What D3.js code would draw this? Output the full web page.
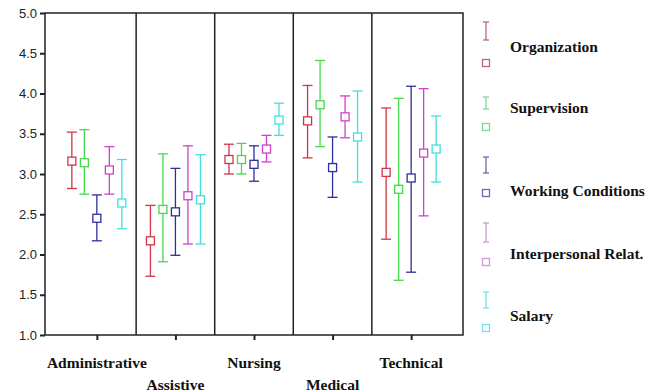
<!DOCTYPE html>
<html>
<head>
<meta charset="utf-8">
<script src="https://cdn.jsdelivr.net/npm/d3@7"></script>
<style>
body { margin: 0; background: #fff; }
svg { display: block; }
</style>
</head>
<body>
<script>
// categories and series
var groups = ["Administrative", "Assistive", "Nursing", "Medical", "Technical"];
var series = ["Organization", "Supervision", "Working Conditions", "Interpersonal Relat.", "Salary"];
var colors = ["#d0354a", "#45d84a", "#2e2e9e", "#d040d0", "#40e0e0"];
var legendColors = ["#b86878", "#80d890", "#6a6ab0", "#d098d8", "#70e4e4"];

// means and CI bounds, one row per series, one value per group
var means = [
  [3.16, 2.17, 3.18, 3.66, 3.02],
  [3.14, 2.56, 3.18, 3.86, 2.81],
  [2.45, 2.53, 3.12, 3.08, 2.95],
  [3.05, 2.73, 3.31, 3.71, 3.26],
  [2.64, 2.68, 3.67, 3.46, 3.31]
];
var upper = [
  [3.52, 2.61, 3.37, 4.10, 3.82],
  [3.55, 3.25, 3.38, 4.41, 3.94],
  [2.74, 3.07, 3.35, 3.46, 4.09],
  [3.34, 3.35, 3.48, 3.97, 4.06],
  [3.18, 3.24, 3.88, 4.03, 3.72]
];
var lower = [
  [2.82, 1.73, 3.00, 3.20, 2.19],
  [2.75, 1.91, 3.00, 3.34, 1.68],
  [2.17, 1.99, 2.91, 2.71, 1.78],
  [2.75, 2.13, 3.15, 3.45, 2.48],
  [2.32, 2.13, 3.48, 2.90, 2.90]
];
var yTicks = [1.0, 1.5, 2.0, 2.5, 3.0, 3.5, 4.0, 4.5, 5.0];

var svg = d3.select("body").append("svg")
    .attr("width", 664)
    .attr("height", 392);

var plotLeft = 45, plotRight = 463, plotTop = 13, plotBottom = 335;

var x = d3.scalePoint()
    .domain(groups)
    .range([plotLeft, plotRight])
    .padding(0.66);

var offset = d3.scalePoint()
    .domain(series)
    .range([-25, 25]);

var y = d3.scaleLinear()
    .domain([1, 5])
    .range([plotBottom, plotTop]);

// frame
svg.append("rect")
    .attr("x", plotLeft).attr("y", plotTop)
    .attr("width", plotRight - plotLeft).attr("height", plotBottom - plotTop)
    .attr("fill", "none")
    .attr("stroke", "#222")
    .attr("stroke-width", 1.5);

// dividers between groups
var step = x.step();
groups.slice(1).forEach(function(g) {
    svg.append("line")
        .attr("x1", x(g) - step / 2).attr("x2", x(g) - step / 2)
        .attr("y1", plotTop).attr("y2", plotBottom)
        .attr("stroke", "#222")
        .attr("stroke-width", 1.5);
});

// y axis
var yAxis = svg.append("g")
    .attr("transform", "translate(" + plotLeft + ",0)")
    .call(d3.axisLeft(y).tickValues(yTicks).tickFormat(d3.format(".1f")).tickSize(5).tickPadding(3));
yAxis.select(".domain").remove();
yAxis.selectAll("line").attr("stroke", "#222").attr("stroke-width", 2);
yAxis.selectAll("text")
    .attr("font-family", "Liberation Sans, Arial, sans-serif")
    .attr("font-size", 13)
    .attr("fill", "#222");

// x axis
var xAxis = svg.append("g")
    .attr("transform", "translate(0," + plotBottom + ")")
    .call(d3.axisBottom(x).tickSize(5).tickFormat(""));
xAxis.select(".domain").remove();
xAxis.selectAll("line").attr("stroke", "#222").attr("stroke-width", 2);

svg.selectAll(".xlabel")
    .data(groups)
    .enter()
    .append("text")
        .attr("class", "xlabel")
        .attr("x", function(d) { return x(d); })
        .attr("y", function(d, i) { return i % 2 ? 390 : 368; })
        .attr("text-anchor", "middle")
        .attr("font-family", "Liberation Serif, Times New Roman, serif")
        .attr("font-weight", "bold")
        .attr("font-size", 15.5)
        .attr("fill", "#111")
        .text(function(d) { return d; });

// error bars
series.forEach(function(s, si) {
    groups.forEach(function(g, gi) {
        var cx = x(g) + offset(s);
        var c = colors[si];
        var gEl = svg.append("g").attr("stroke", c).attr("stroke-width", 1.3).attr("fill", "none");
        gEl.append("line")
            .attr("x1", cx).attr("x2", cx)
            .attr("y1", y(upper[si][gi])).attr("y2", y(lower[si][gi]));
        [upper[si][gi], lower[si][gi]].forEach(function(v) {
            gEl.append("line")
                .attr("x1", cx - 5).attr("x2", cx + 5)
                .attr("y1", y(v)).attr("y2", y(v));
        });
        gEl.append("rect")
            .attr("x", cx - 4).attr("y", y(means[si][gi]) - 4)
            .attr("width", 8).attr("height", 8)
            .attr("fill", "#fff");
    });
});

// legend
var legendY = [[22, 40, 63, 47], [97, 109, 127, 108], [157, 173, 193, 191], [223, 242, 262, 254], [292, 308, 328, 316]];
series.forEach(function(s, i) {
    var lx = 486, ly = legendY[i];
    var c = legendColors[i];
    var lg = svg.append("g").attr("stroke", c).attr("stroke-width", 1.3).attr("fill", "none");
    lg.append("line").attr("x1", lx).attr("x2", lx).attr("y1", ly[0]).attr("y2", ly[1]);
    lg.append("line").attr("x1", lx - 3).attr("x2", lx + 3).attr("y1", ly[0]).attr("y2", ly[0]);
    lg.append("line").attr("x1", lx - 3).attr("x2", lx + 3).attr("y1", ly[1]).attr("y2", ly[1]);
    lg.append("rect").attr("x", lx - 3.5).attr("y", ly[2] - 3.5).attr("width", 7).attr("height", 7);
    svg.append("text")
        .attr("x", 510)
        .attr("y", ly[3])
        .attr("dy", "0.35em")
        .attr("font-family", "Liberation Serif, Times New Roman, serif")
        .attr("font-weight", "bold")
        .attr("font-size", 15.5)
        .attr("fill", "#111")
        .text(s);
});
</script>
</body>
</html>
